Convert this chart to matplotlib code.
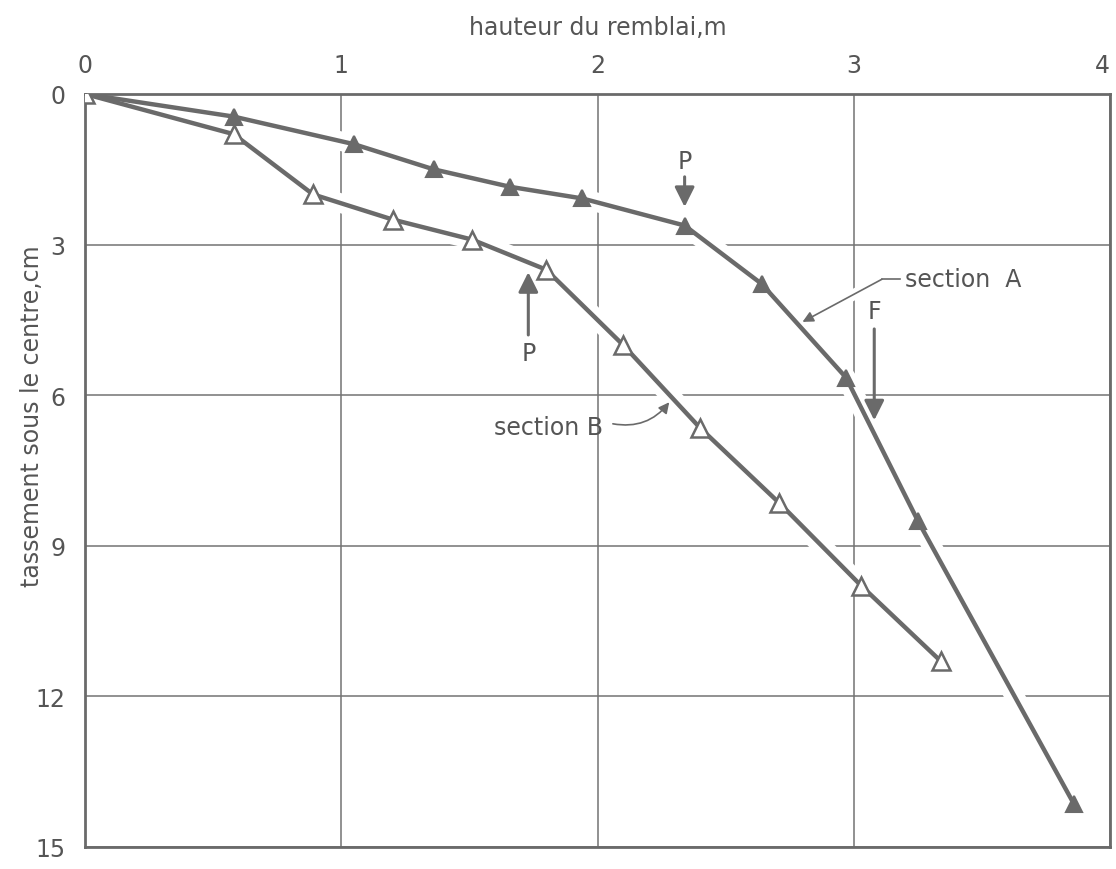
import matplotlib
matplotlib.use("Agg")
import matplotlib.pyplot as plt

# Fill height (m) vs settlement under the centre (cm)
height_a = [0, 0.58, 1.05, 1.36, 1.66, 1.94, 2.34, 2.64, 2.97, 3.25, 3.86]
settle_a = [0, 0.45, 1.00, 1.50, 1.85, 2.08, 2.62, 3.78, 5.65, 8.50, 14.15]
height_b = [0, 0.58, 0.89, 1.20, 1.51, 1.80, 2.10, 2.40, 2.71, 3.03, 3.34]
settle_b = [0, 0.80, 2.00, 2.50, 2.90, 3.50, 5.00, 6.65, 8.15, 9.80, 11.30]

x_ticks = [0, 1, 2, 3, 4]
y_ticks = [0, 3, 6, 9, 12, 15]

INK = "#6a6a6a"
GRID = "#737373"
TXT = "#555555"
FS = 17

W, H = 1116, 870
fig = plt.figure(figsize=(W / 100, H / 100), dpi=100)
left, right, top, bottom = 85, 1110, 95, 848
ax = fig.add_axes([left / W, 1 - bottom / H, (right - left) / W, (bottom - top) / H])

ax.set_xlim(0, 4)
ax.set_ylim(15, 0)
ax.xaxis.tick_top()
ax.xaxis.set_label_position("top")
ax.set_xticks(x_ticks)
ax.set_yticks(y_ticks)
xlabels = ax.set_xticklabels([str(v) for v in x_ticks], fontsize=FS, color=TXT)
xlabels[-1].set_horizontalalignment("right")
ax.set_yticklabels([str(v) for v in y_ticks], fontsize=FS, color=TXT)
ax.tick_params(axis="x", length=0, pad=12)
ax.tick_params(axis="y", length=0, pad=14)
ax.set_axisbelow(True)
ax.grid(True, color=GRID, lw=1.1)
for s in ax.spines.values():
    s.set_color(INK)
    s.set_linewidth(2.0)

ax.set_xlabel("hauteur du remblai,m", fontsize=FS, color=TXT, labelpad=14)
ax.set_ylabel("tassement sous le centre,cm", fontsize=FS, color=TXT)
ax.yaxis.set_label_coords(-0.040, 0.573)

# white bands that interrupt the grid where the curves cross it
for hx, sy in ((height_a, settle_a), (height_b, settle_b)):
    ax.plot(hx, sy, color="white", lw=14, solid_capstyle="butt", zorder=1.5)

ax.plot(height_a, settle_a, color=INK, lw=3.2, marker="^", ms=12,
        mfc=INK, mec=INK, mew=1.5, zorder=3)
ax.plot(height_b, settle_b, color=INK, lw=3.2, marker="^", ms=12.5,
        mfc="white", mec=INK, mew=1.8, zorder=3)

big_arrow = dict(arrowstyle="-|>", color=INK, lw=2.2, mutation_scale=30,
                 shrinkA=0, shrinkB=0)
small_arrow = dict(arrowstyle="-|>", color=INK, lw=1.2, mutation_scale=16,
                   shrinkA=0, shrinkB=0)

# P marker for section A
ax.annotate("", xy=(2.34, 2.25), xytext=(2.34, 1.65), arrowprops=big_arrow, zorder=4)
ax.text(2.34, 1.33, "P", ha="center", va="center", fontsize=FS, color=TXT)
# P marker for section B
ax.annotate("", xy=(1.73, 3.55), xytext=(1.73, 4.8), arrowprops=big_arrow, zorder=4)
ax.text(1.73, 5.15, "P", ha="center", va="center", fontsize=FS, color=TXT)
# F marker
ax.plot([3.08, 3.08], [4.55, 4.95], color="white", lw=12, zorder=1.5)
ax.annotate("", xy=(3.08, 6.5), xytext=(3.08, 4.68), arrowprops=big_arrow, zorder=4)
ax.text(3.08, 4.33, "F", ha="center", va="center", fontsize=FS, color=TXT)

# curve labels
ax.text(3.20, 3.69, "section  A", ha="left", va="center", fontsize=FS, color=TXT)
ax.plot([3.18, 3.11], [3.69, 3.69], color=INK, lw=1.2, zorder=4)
ax.plot([3.11, 2.82], [3.69, 4.50], color="white", lw=8, zorder=1.5)
ax.annotate("", xy=(2.80, 4.54), xytext=(3.11, 3.69), arrowprops=small_arrow, zorder=4)

ax.text(2.02, 6.63, "section B", ha="right", va="center", fontsize=FS, color=TXT)
ax.annotate("", xy=(2.28, 6.14), xytext=(2.06, 6.57),
            arrowprops=dict(small_arrow, connectionstyle="arc3,rad=0.3"), zorder=4)

fig.savefig("out.png", dpi=100, facecolor="white")
